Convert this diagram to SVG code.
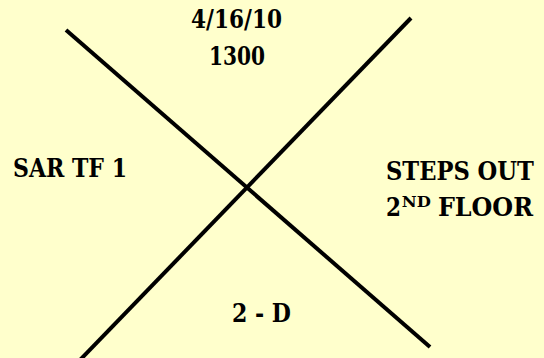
<svg xmlns="http://www.w3.org/2000/svg" width="544" height="358" viewBox="0 0 544 358">
<style>
.bg{fill:#FFFFCC}
.ln{stroke:#000;stroke-width:4;fill:none}
.t{font-family:"DejaVu Serif","Liberation Serif",serif;font-weight:bold;font-size:26px;fill:#000}
.sup{font-size:15px}
</style>
<rect class="bg" x="0" y="0" width="544" height="358"/>
<g id="connectors">
<line class="ln" x1="66" y1="30" x2="430" y2="347"/>
<line class="ln" x1="411" y1="18" x2="80" y2="360"/>
</g>
<g id="top">
<text class="t" x="191" y="28" textLength="91" lengthAdjust="spacingAndGlyphs">4/16/10</text>
<text class="t" x="209" y="65" textLength="56" lengthAdjust="spacingAndGlyphs">1300</text>
</g>
<g id="left">
<text class="t" x="13" y="177" textLength="114" lengthAdjust="spacingAndGlyphs">SAR TF 1</text>
</g>
<g id="right" transform="translate(386,0) scale(0.88,1)">
<text class="t" x="0" y="180" textLength="168" lengthAdjust="spacingAndGlyphs">STEPS OUT</text>
<text class="t" x="0" y="216" textLength="17" lengthAdjust="spacingAndGlyphs">2</text>
<text class="t sup" x="18" y="207" textLength="33" lengthAdjust="spacingAndGlyphs">ND</text>
<text class="t" x="59" y="216" textLength="108" lengthAdjust="spacingAndGlyphs">FLOOR</text>
</g>
<g id="bottom">
<text class="t" x="232" y="322" textLength="59" lengthAdjust="spacingAndGlyphs">2 - D</text>
</g>
</svg>
